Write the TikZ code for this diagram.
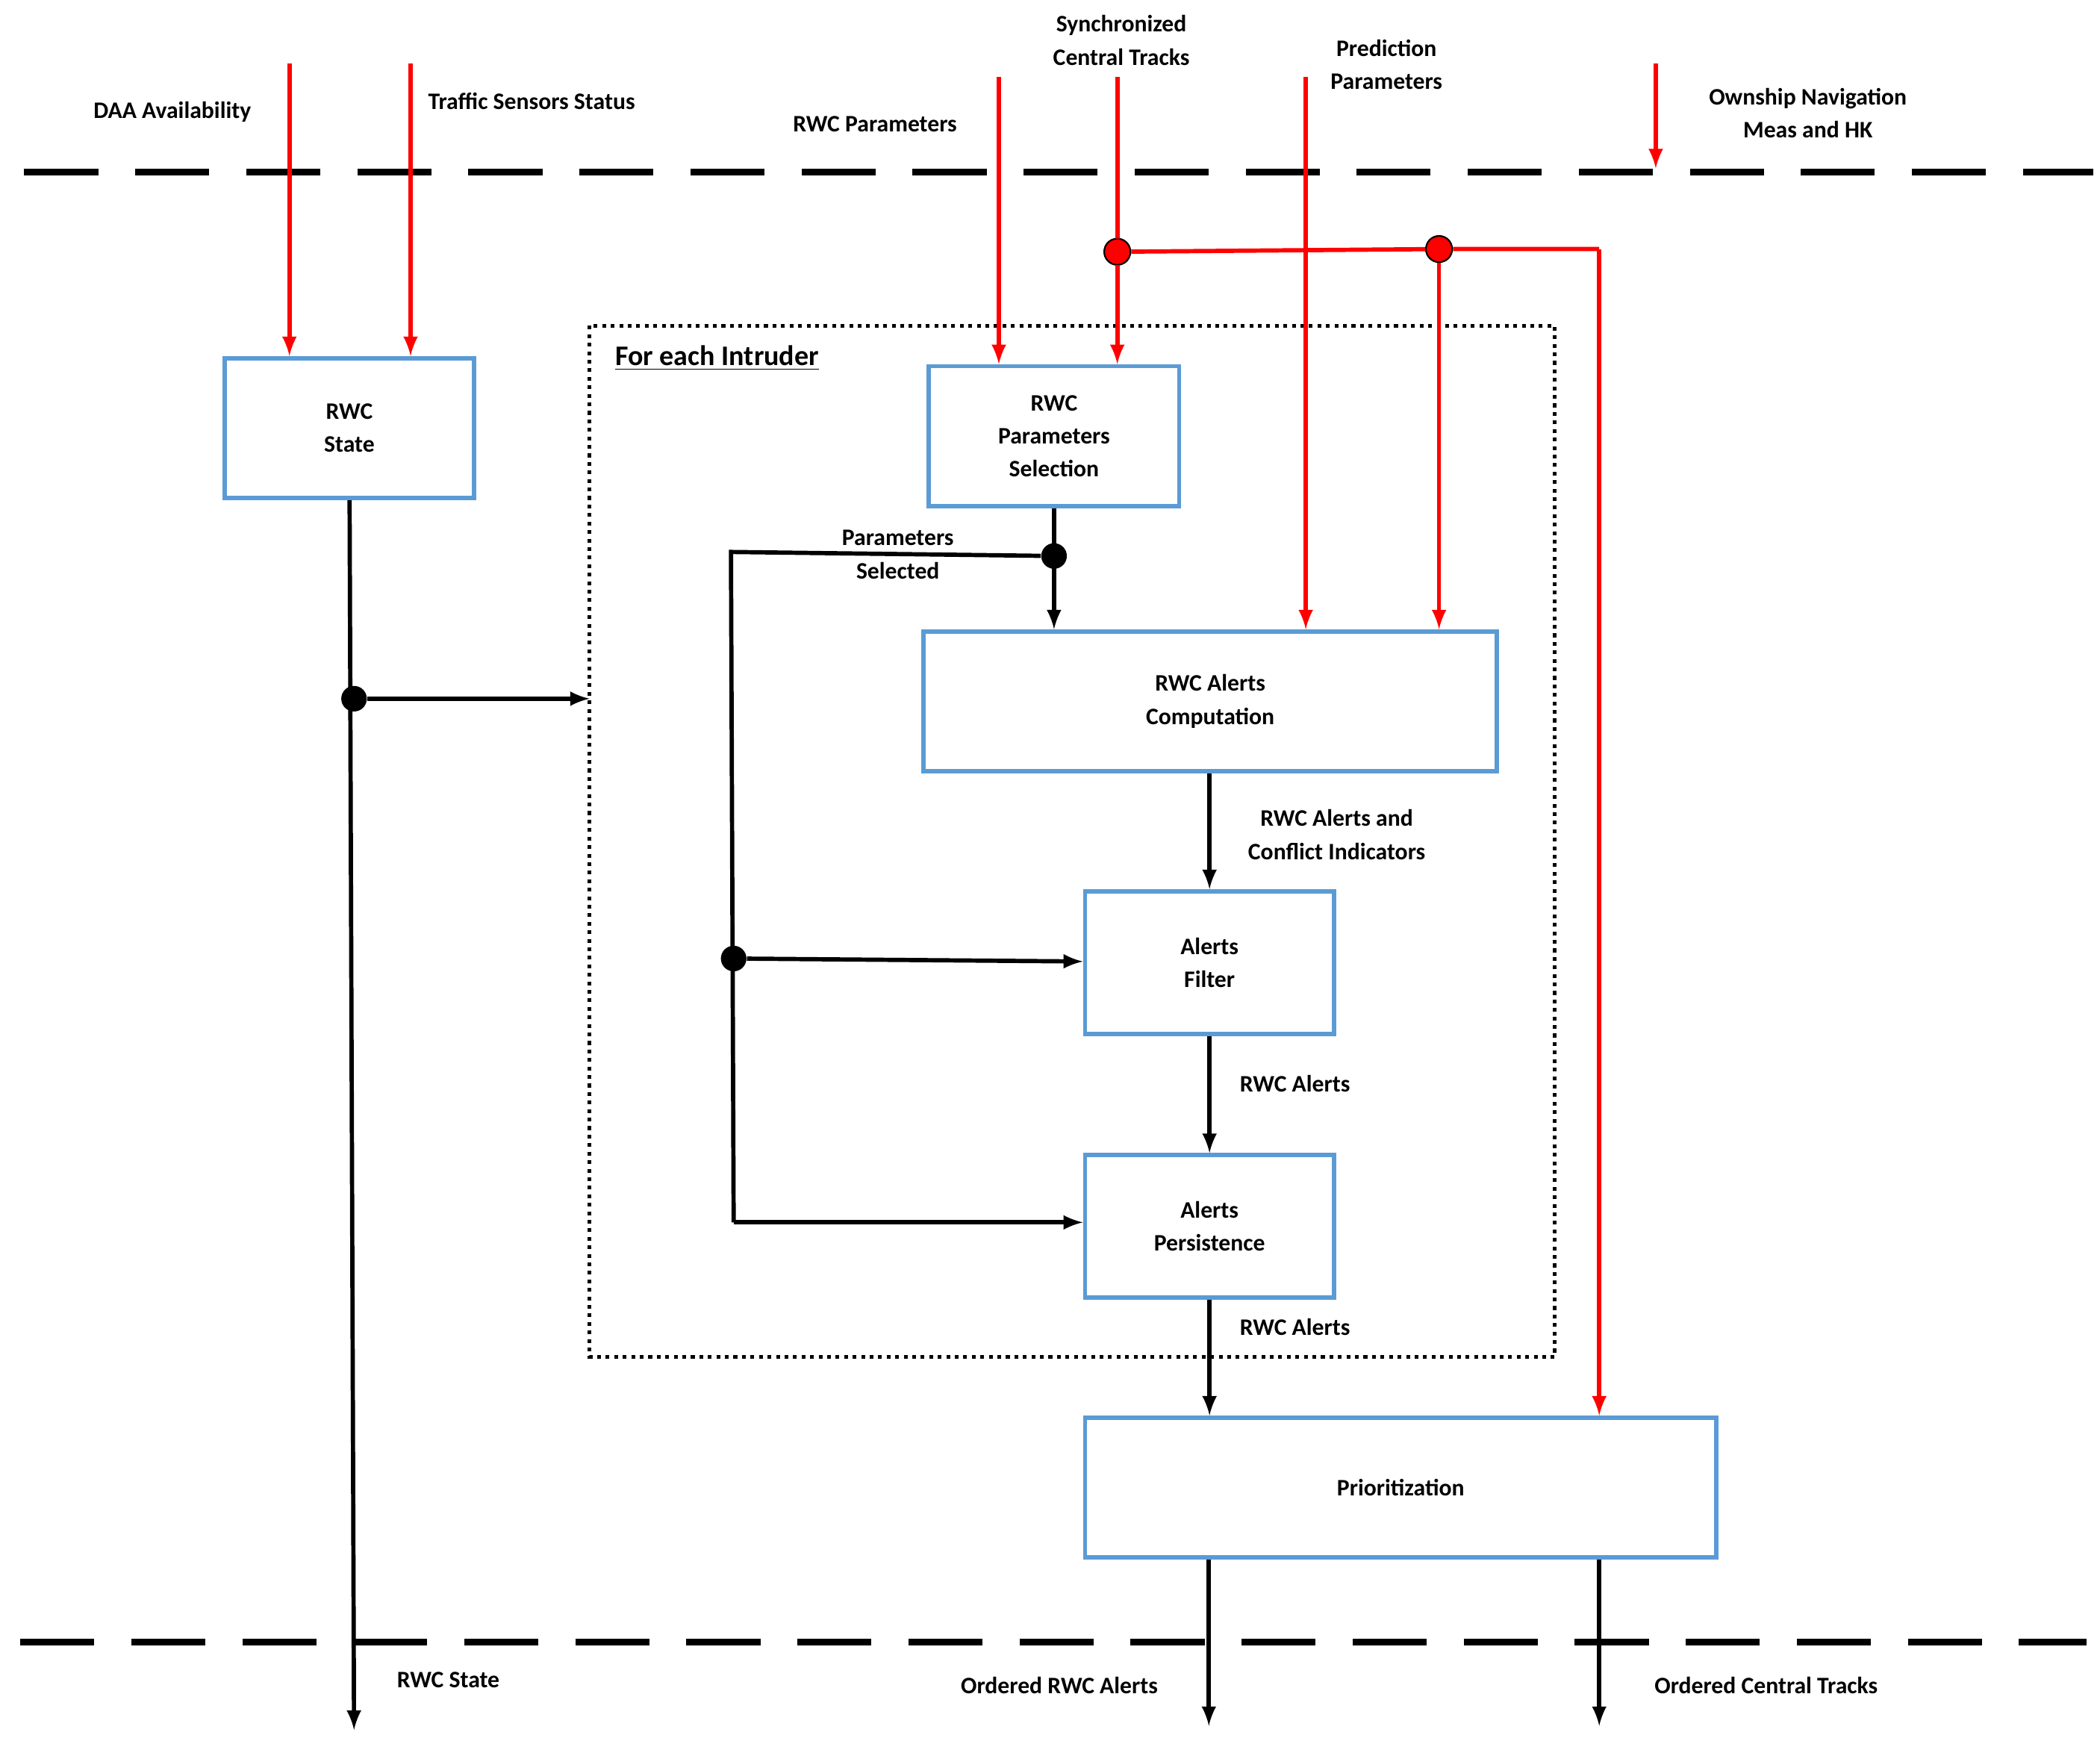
\documentclass[tikz,border=0pt]{standalone}
\usepackage{fontspec}
\setmainfont{Carlito}
\usetikzlibrary{arrows, positioning}
\definecolor{boxblue}{HTML}{5B9BD5}
\begin{document}
\begin{tikzpicture}[x=0.02cm,y=-0.02cm,>=latex,font=\fontsize{10}{14}\selectfont\bfseries]
    \tikzstyle{block}=[shape=rectangle,draw=boxblue,line width=1.8pt,align=center,minimum height=2.08cm]
    \tikzstyle{lbl}=[align=center,inner sep=1pt]
    \tikzstyle{bus}=[line width=2.8pt,dash pattern=on 1.1cm off 0.55cm]
    \tikzstyle{dot}=[shape=circle,fill,inner sep=0pt,minimum size=0.38cm]
    \useasboundingbox (0,0) rectangle (1560,1295);

    \node[block, minimum width=3.7cm] (state) at (259.5,318) {RWC\\State};
    \node[block, minimum width=3.72cm] (sel) at (783,324) {RWC\\Parameters\\Selection};
    \node[block, minimum width=8.52cm] (comp) at (899,521) {RWC Alerts\\Computation};
    \node[block, minimum width=3.7cm, minimum height=2.12cm] (filt) at (898.5,715) {Alerts\\Filter};
    \node[block, minimum width=3.7cm, minimum height=2.12cm] (pers) at (898.5,911) {Alerts\\Persistence};
    \node[block, minimum width=9.38cm] (prio) at (1040.5,1105) {Prioritization};

    % dashed borders and the loop frame
    \draw[bus] (18,128) -- (1555,128);
    \draw[bus] (15,1220) -- (1550,1220);
    \draw[line width=1.6pt, dotted] (438,242) rectangle (1155,1008);
    \node[lbl, anchor=west, font=\fontsize{12}{14}\selectfont\bfseries] (loop) at (455,266) {\underline{For each Intruder}};

    % inputs
    \node[lbl] (daa) at (128,83) {DAA Availability};
    \node[lbl, anchor=west] (tss) at (316,75) {Traffic Sensors Status};
    \node[lbl] (rwcp) at (650,92) {RWC Parameters};
    \node[lbl] (sct) at (833,30) {Synchronized\\Central Tracks};
    \node[lbl] (pred) at (1030,48) {Prediction\\Parameters};
    \node[lbl] (own) at (1343,84) {Ownship Navigation\\Meas and HK};
    \coordinate (daa in) at (215,47);
    \coordinate (tss in) at (305,47);
    \coordinate (rwcp in) at (742,57);
    \coordinate (sct in) at (830,57);
    \coordinate (pred in) at (970,57);
    \coordinate (own in) at (1230,47);
    \coordinate (own out) at (1230,125);
    \node[dot, fill=red, draw=black, thin, minimum size=0.4cm] (d1) at (830,187) {};
    \node[dot, fill=red, draw=black, thin, minimum size=0.4cm] (d2) at (1069,185) {};
    \coordinate (corner) at (1188,185);

    \begin{scope}[red, line width=1.8pt]
    \draw[->] (daa in) -- (state.north -| daa in);
    \draw[->] (tss in) -- (state.north -| tss in);
    \draw[->] (rwcp in) -- (sel.north -| rwcp in);
    \draw[->] (sct in) -- (sel.north -| sct in);
    \draw[->] (pred in) -- (comp.north -| pred in);
    \draw[->] (own in) -- (own out);
    \draw (d1) -- (d2) -- (corner);
    \draw[->] (corner) -- (prio.north -| corner);
    \draw[->] (d2) -- (comp.north -| d2);
    \end{scope}
    \fill[red, draw=black, thin] (d1) circle (0.19cm) (d2) circle (0.19cm);

    % internal flow
    \node[dot] (sd) at (263,519) {};
    \node[dot] (pd) at (783,413) {};
    \node[dot] (fd) at (545,712) {};
    \coordinate (st end) at (263,1285);
    \coordinate (frame in) at (438,519);
    \coordinate (pl top) at (543,410);
    \coordinate (pl bot) at (545,908);
    \coordinate (ora end) at (898,1282);
    \coordinate (oct end) at (1188,1282);
    \node[lbl] (lst) at (333,1248) {RWC State};
    \node[lbl] (lps) at (667,412) {Parameters\\Selected};
    \node[lbl] (lac) at (993,620) {RWC Alerts and\\Conflict Indicators};
    \node[lbl] (lfa) at (962,805) {RWC Alerts};
    \node[lbl] (lpa) at (962,986) {RWC Alerts};
    \node[lbl] (lora) at (787,1252) {Ordered RWC Alerts};
    \node[lbl] (loct) at (1312,1252) {Ordered Central Tracks};

    \begin{scope}[line width=1.8pt]
    \draw[->] (state) -- (st end);
    \draw[->] (sd) -- (frame in);
    \draw[->] (sel) -- (comp.north -| sel);
    \draw (pd) -- (pl top) -- (pl bot);
    \draw[->] (fd) -- (filt);
    \draw[->] (pl bot) -- (pers.west |- pl bot);
    \draw[->] (comp.south -| filt) -- (filt);
    \draw[->] (filt) -- (pers);
    \draw[->] (pers) -- (prio.north -| pers);
    \draw[->] (prio.south -| ora end) -- (ora end);
    \draw[->] (prio.south -| oct end) -- (oct end);
    \end{scope}
\end{tikzpicture}
\end{document}
